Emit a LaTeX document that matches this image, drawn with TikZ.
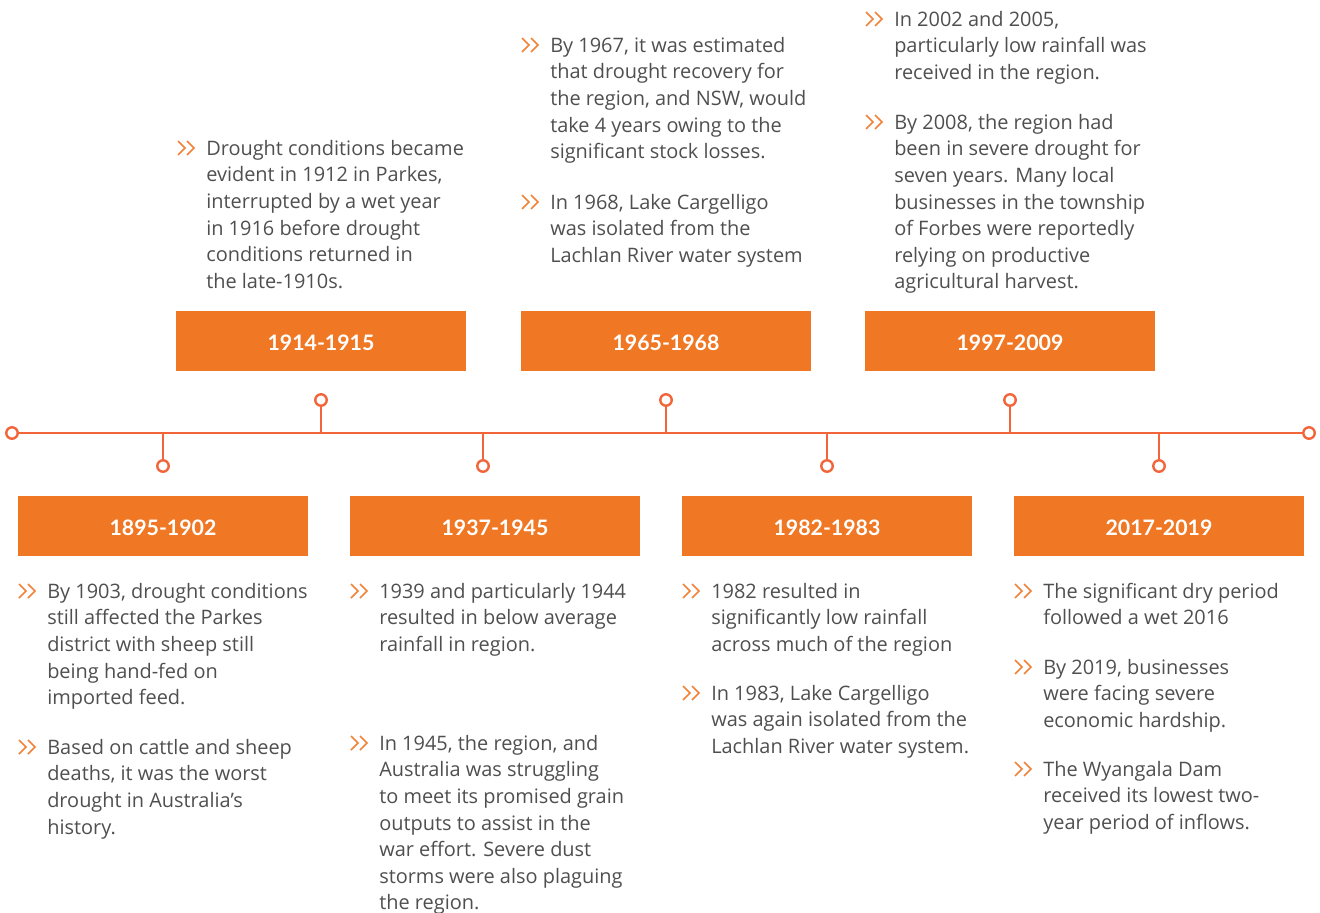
\documentclass[tikz,border=0pt]{standalone}
\usepackage{fontspec}
\setmainfont{Open Sans}
\newfontfamily\headfont{Lato}
\definecolor{lineorange}{HTML}{F2653A}
\definecolor{boxorange}{HTML}{F07723}
\definecolor{chevorange}{HTML}{F28238}
\definecolor{bodygray}{HTML}{4F4F4F}
\tikzset{
  axis/.style={draw=lineorange, line width=2.1pt},
  knob/.style={circle, draw=lineorange, line width=1.8pt, fill=white, minimum size=8.6pt, inner sep=0pt},
  yearbox/.style={fill=boxorange, minimum width=217.5pt, minimum height=45pt, inner sep=0pt,
    text=white, font=\headfont\fontsize{16}{18}\selectfont\bfseries},
  yearlabel/.style={text=white, inner sep=0pt, font=\headfont\fontsize{16}{18}\selectfont\bfseries},
  bodytext/.style={anchor=north west, inner sep=0pt, align=left, text=bodygray,
    font=\fontsize{14.95}{19.95}\selectfont},
  chev/.style={draw=chevorange, line width=1.15pt, line join=miter},
}
% one bullet: name, text x, centre of first line y, text
\newcommand\bulletitem[4]{%
  \draw[chev] (#2-28,#3-7) -- ++(7,7) -- ++(-7,7);
  \draw[chev] (#2-19,#3-7) -- ++(7,7) -- ++(-7,7);
  \node[bodytext] (#1) at (#2,#3-11.6) {\strut#4};}
\begin{document}
\begin{tikzpicture}[x=0.75pt, y=-0.75pt]
\useasboundingbox (0,0) rectangle (1320,913);

% timeline and its end knobs
\node[knob] (L) at (12,433) {};
\node[knob] (R) at (1309,433) {};
\draw[axis] (L) -- (R);

% knobs above the line
\node[knob] (u1) at (321,400) {};
\node[knob] (u2) at (666,400) {};
\node[knob] (u3) at (1010,400) {};
% knobs below the line
\node[knob] (d1) at (163,466) {};
\node[knob] (d2) at (483,466) {};
\node[knob] (d3) at (827,466) {};
\node[knob] (d4) at (1159,466) {};
\foreach \k in {u1,u2,u3,d1,d2,d3,d4}
  \draw[axis] (\k) -- (\k |- L);

% year boxes with their labels
\foreach \n/\x/\y/\t in {y1914/321/341/1914-1915, y1965/666/341/1965-1968, y1997/1010/341/1997-2009,
    y1895/163/526/1895-1902, y1937/495/526/1937-1945, y1982/827/526/1982-1983, y2017/1159/526/2017-2019}{
  \node[yearbox] (\n) at (\x,\y) {};
  \node[yearlabel] (\n-label) at (\x,\y+2) {\t};
}

% notes above the timeline
\bulletitem{n1914}{206}{148}{Drought conditions became\\evident in 1912 in Parkes,\\interrupted by a wet year\\in 1916 before drought\\conditions returned in\\the late-1910s.}
\bulletitem{n1965a}{550}{45}{By 1967, it was estimated\\that drought recovery for\\the region, and NSW, would\\take 4 years owing to the\\significant stock losses.}
\bulletitem{n1965b}{550}{202}{In 1968, Lake Cargelligo\\was isolated from the\\Lachlan River water system}
\bulletitem{n1997a}{894}{19}{In 2002 and 2005,\\particularly low rainfall was\\received in the region.}
\bulletitem{n1997b}{894}{122}{By 2008, the region had\\been in severe drought for\\seven years. Many local\\businesses in the township\\of Forbes were reportedly\\relying on productive\\agricultural harvest.}

% notes below the timeline
\bulletitem{n1895a}{47}{591}{By 1903, drought conditions\\still affected the Parkes\\district with sheep still\\being hand-fed on\\imported feed.}
\bulletitem{n1895b}{47}{747}{Based on cattle and sheep\\deaths, it was the worst\\drought in Australia’s\\history.}
\bulletitem{n1937a}{379}{591}{1939 and particularly 1944\\resulted in below average\\rainfall in region.}
\bulletitem{n1937b}{379}{743}{In 1945, the region, and\\Australia was struggling\\to meet its promised grain\\outputs to assist in the\\war effort. Severe dust\\storms were also plaguing\\the region.}
\bulletitem{n1982a}{711}{591}{1982 resulted in\\significantly low rainfall\\across much of the region}
\bulletitem{n1982b}{711}{693}{In 1983, Lake Cargelligo\\was again isolated from the\\Lachlan River water system.}
\bulletitem{n2017a}{1043}{591}{The significant dry period\\followed a wet 2016}
\bulletitem{n2017b}{1043}{667}{By 2019, businesses\\were facing severe\\economic hardship.}
\bulletitem{n2017c}{1043}{769}{The Wyangala Dam\\received its lowest two-\\year period of inflows.}
\end{tikzpicture}
\end{document}
